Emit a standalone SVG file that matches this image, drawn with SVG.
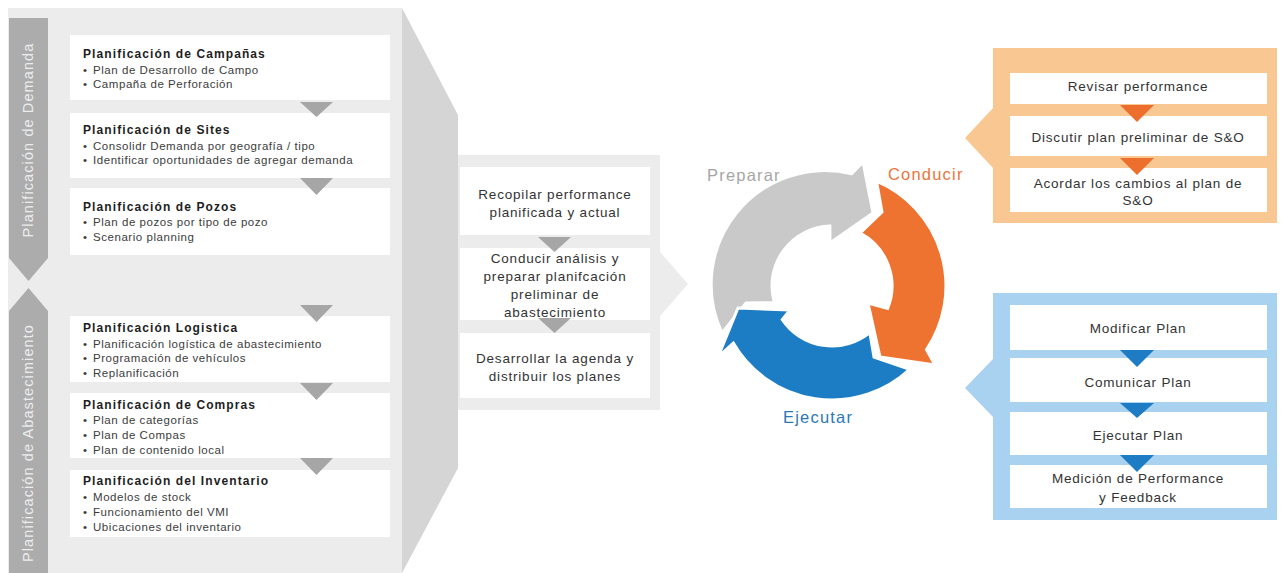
<svg xmlns="http://www.w3.org/2000/svg" width="1281" height="573" viewBox="0 0 1281 573">
<style>
text{font-family:"Liberation Sans",Arial,sans-serif}
.ttl{font-weight:bold;font-size:12px;letter-spacing:1.1px;fill:#1e1e1e}
.bul{font-size:11.5px;letter-spacing:0.55px;fill:#3c3c3c}
.box{fill:#ffffff}
.tri{fill:#a6a6a6}
.otri{fill:#ec6f2d}
.btri{fill:#1d7cc3}
.mt{font-size:13.5px;letter-spacing:0.8px;fill:#333333;text-anchor:middle}
.vt{font-size:14.5px;letter-spacing:1.1px;fill:#ececec;text-anchor:middle}
.cl{font-size:16.5px;letter-spacing:1.2px}
.arr{stroke:#ffffff;stroke-width:3;stroke-linejoin:miter}
</style>

<g id="left-panel">
  <rect x="8" y="8" width="394" height="565" fill="#ececec"/>
  <polygon points="402,8 458,115 458,468 402,573" fill="#d5d5d5"/>
</g>

<g id="band-demanda">
  <polygon points="9,18 48,18 48,258 28.5,281 9,258" fill="#acacac"/>
  <text class="vt" transform="translate(33,140) rotate(-90)">Planificación de Demanda</text>
</g>
<g id="band-abastecimiento">
  <polygon points="28.5,288 48,311 48,573 9,573 9,311" fill="#acacac"/>
  <text class="vt" transform="translate(33,443) rotate(-90)">Planificación de Abastecimiento</text>
</g>

<g id="campanas">
  <rect class="box" x="70" y="35" width="320" height="65"/>
  <text class="ttl" x="83" y="58">Planificación de Campañas</text>
  <text class="bul" x="83" y="74">•<tspan x="93">Plan de Desarrollo de Campo</tspan></text>
  <text class="bul" x="83" y="88">•<tspan x="93">Campaña de Perforación</tspan></text>
</g>
<g id="sites">
  <rect class="box" x="70" y="113" width="320" height="65"/>
  <text class="ttl" x="83" y="134">Planificación de Sites</text>
  <text class="bul" x="83" y="150">•<tspan x="93">Consolidr Demanda por geografía / tipo</tspan></text>
  <text class="bul" x="83" y="164">•<tspan x="93">Identificar oportunidades de agregar demanda</tspan></text>
</g>
<g id="pozos">
  <rect class="box" x="70" y="188" width="320" height="67"/>
  <text class="ttl" x="83" y="211">Planificación de Pozos</text>
  <text class="bul" x="83" y="226">•<tspan x="93">Plan de pozos por tipo de pozo</tspan></text>
  <text class="bul" x="83" y="241">•<tspan x="93">Scenario planning</tspan></text>
</g>
<g id="logistica">
  <rect class="box" x="70" y="316" width="320" height="66"/>
  <text class="ttl" x="83" y="332">Planificación Logistica</text>
  <text class="bul" x="83" y="348">•<tspan x="93">Planificación logística de abastecimiento</tspan></text>
  <text class="bul" x="83" y="362">•<tspan x="93">Programación de vehículos</tspan></text>
  <text class="bul" x="83" y="377">•<tspan x="93">Replanificación</tspan></text>
</g>
<g id="compras">
  <rect class="box" x="70" y="393" width="320" height="65"/>
  <text class="ttl" x="83" y="409">Planificación de Compras</text>
  <text class="bul" x="83" y="424">•<tspan x="93">Plan de categorías</tspan></text>
  <text class="bul" x="83" y="439">•<tspan x="93">Plan de Compas</tspan></text>
  <text class="bul" x="83" y="454">•<tspan x="93">Plan de contenido local</tspan></text>
</g>
<g id="inventario">
  <rect class="box" x="70" y="470" width="320" height="67"/>
  <text class="ttl" x="83" y="485">Planificación del Inventario</text>
  <text class="bul" x="83" y="501">•<tspan x="93">Modelos de stock</tspan></text>
  <text class="bul" x="83" y="516">•<tspan x="93">Funcionamiento del VMI</tspan></text>
  <text class="bul" x="83" y="531">•<tspan x="93">Ubicaciones del inventario</tspan></text>
</g>

<g id="middle-panel">
  <polygon points="458,155 660,155 660,252 688,284 660,316 660,410 458,410" fill="#ececec"/>
</g>
<g id="recopilar">
  <rect class="box" x="460" y="167" width="190" height="68"/>
  <text class="mt" x="555" y="199">Recopilar performance</text>
  <text class="mt" x="555" y="217">planificada y actual</text>
</g>
<g id="conducir-analisis">
  <rect class="box" x="460" y="248" width="190" height="72"/>
  <text class="mt" x="555" y="263">Conducir análisis y</text>
  <text class="mt" x="555" y="281">preparar planifcación</text>
  <text class="mt" x="555" y="299">preliminar de</text>
  <text class="mt" x="555" y="317">abastecimiento</text>
</g>
<g id="desarrollar">
  <rect class="box" x="460" y="333" width="190" height="65"/>
  <text class="mt" x="555" y="363">Desarrollar la agenda y</text>
  <text class="mt" x="555" y="381">distribuir los planes</text>
</g>

<g id="orange-panel">
  <polygon points="993,48 1277,48 1277,223 993,223 993,168 965,138 993,108" fill="#f9c892"/>
</g>
<g id="revisar">
  <rect class="box" x="1010" y="73" width="257" height="31"/>
  <text class="mt" x="1138" y="91">Revisar performance</text>
</g>
<g id="discutir">
  <rect class="box" x="1010" y="116" width="257" height="40"/>
  <text class="mt" x="1138" y="142">Discutir plan preliminar de S&amp;O</text>
</g>
<g id="acordar">
  <rect class="box" x="1010" y="168" width="257" height="44"/>
  <text class="mt" x="1138" y="188">Acordar los cambios al plan de</text>
  <text class="mt" x="1138" y="205">S&amp;O</text>
</g>

<g id="blue-panel">
  <polygon points="993,293 1277,293 1277,520 993,520 993,417 965,388 993,359" fill="#a9d2f0"/>
</g>
<g id="modificar">
  <rect class="box" x="1010" y="305" width="257" height="45"/>
  <text class="mt" x="1138" y="333">Modificar Plan</text>
</g>
<g id="comunicar">
  <rect class="box" x="1010" y="358" width="257" height="44"/>
  <text class="mt" x="1138" y="387">Comunicar Plan</text>
</g>
<g id="ejecutar-plan">
  <rect class="box" x="1010" y="412" width="257" height="43"/>
  <text class="mt" x="1138" y="440">Ejecutar Plan</text>
</g>
<g id="medicion">
  <rect class="box" x="1010" y="465" width="257" height="43"/>
  <text class="mt" x="1138" y="483">Medición de Performance</text>
  <text class="mt" x="1138" y="502">y Feedback</text>
</g>

<g id="cycle">
  <path class="arr" fill="#c9c9c9" d="M722,333 A114,114 0 0 1 851.8,173.7 L863,162 L873,213 L830,243 L829.9,226 A60,60 0 0 0 774.3,302.5 L746,303 Z"/>
  <path class="arr" fill="#ee7330" d="M876.5,181.1 L882,212 L860.2,233 A60,60 0 0 1 887.6,308.5 L868,303 L880,357 L935,365 L926.5,349.7 A114,114 0 0 0 876.5,181.1 Z"/>
  <path class="arr" fill="#1d7dc4" d="M909.7,369.4 L874,357 L869.8,332.6 A60,60 0 0 1 782.3,319.6 L790,310 L738,308 L718,357 L733.3,343 A114,114 0 0 0 909.7,369.4 Z"/>
  <text class="cl" x="707" y="181" fill="#a6a6a6">Preparar</text>
  <text class="cl" x="888" y="180" fill="#e9763b">Conducir</text>
  <text class="cl" x="783" y="423" fill="#2b78b8">Ejecutar</text>
</g>

<g id="connectors">
  <polygon class="tri" points="300,102 333,102 316.5,117"/>
  <polygon class="tri" points="300,178 333,178 316.5,195"/>
  <polygon class="tri" points="300,305 333,305 316.5,322"/>
  <polygon class="tri" points="300,383 333,383 316.5,400"/>
  <polygon class="tri" points="300,458 333,458 316.5,475"/>
  <polygon class="tri" points="538,237 571,237 554.5,252"/>
  <polygon class="tri" points="538,318 571,318 554.5,333"/>
  <polygon class="otri" points="1120,105 1154,105 1137,122"/>
  <polygon class="otri" points="1120,158 1154,158 1137,175"/>
  <polygon class="btri" points="1120,350 1154,350 1137,367"/>
  <polygon class="btri" points="1120,403 1154,403 1137,418"/>
  <polygon class="btri" points="1120,455 1154,455 1137,472"/>
</g>
</svg>
